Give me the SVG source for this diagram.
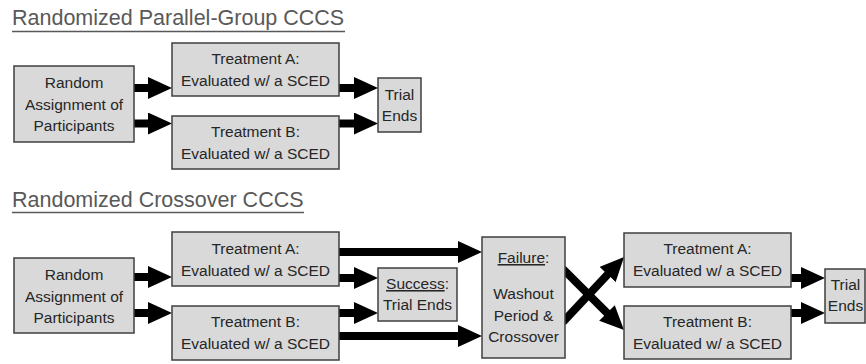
<svg xmlns="http://www.w3.org/2000/svg" width="866" height="364" viewBox="0 0 866 364">
<style>
.box{fill:#d9d9d9;stroke:#3f3f3f;stroke-width:1.5}
.t{font-family:"Liberation Sans",Arial,sans-serif;font-size:15.5px;fill:#262626;text-anchor:middle}
.title{font-family:"Liberation Sans",Arial,sans-serif;font-size:21.5px;fill:#595959}
.ul{stroke:#595959;stroke-width:1.3}
.c{stroke:#000;stroke-width:8;fill:none;marker-end:url(#ah)}
</style>
<defs>
<marker id="ah" viewBox="0 0 24 22" refX="1" refY="11" markerWidth="24" markerHeight="22" markerUnits="userSpaceOnUse" orient="auto">
<path d="M0,0 L24,11 L0,22 z" fill="#000"/>
</marker>
</defs>
<rect width="866" height="364" fill="#fff"/>
<g id="title-parallel">
<text class="title" x="12" y="25">Randomized Parallel-Group CCCS</text>
<line class="ul" x1="12" y1="31.5" x2="345" y2="31.5"/>
</g>
<g id="title-crossover">
<text class="title" x="12" y="207">Randomized Crossover CCCS</text>
<line class="ul" x1="12" y1="212.5" x2="304" y2="212.5"/>
</g>
<g id="connectors">
<line class="c" x1="134" y1="88" x2="149" y2="88"/>
<line class="c" x1="134" y1="123.5" x2="149" y2="123.5"/>
<line class="c" x1="339" y1="88" x2="355" y2="88"/>
<line class="c" x1="339" y1="123.5" x2="355" y2="123.5"/>
<line class="c" x1="134" y1="277" x2="149" y2="277"/>
<line class="c" x1="134" y1="313" x2="149" y2="313"/>
<line class="c" x1="339" y1="252" x2="459" y2="252"/>
<line class="c" x1="339" y1="278" x2="355" y2="278"/>
<line class="c" x1="339" y1="313" x2="355" y2="313"/>
<line class="c" x1="339" y1="336" x2="459" y2="336"/>
<line class="c" x1="563" y1="269" x2="607.7" y2="313.7"/>
<line class="c" x1="563" y1="322" x2="608.3" y2="273.8"/>
<line class="c" x1="791" y1="278" x2="802" y2="278"/>
<line class="c" x1="791" y1="313" x2="802" y2="313"/>
</g>
<g id="random1">
<rect class="box" x="14" y="66" width="120" height="76"/>
<text class="t" x="74" y="88">Random</text>
<text class="t" x="74" y="110">Assignment of</text>
<text class="t" x="74" y="131">Participants</text>
</g>
<g id="treatA1">
<rect class="box" x="172" y="43" width="167" height="53"/>
<text class="t" x="255.5" y="64">Treatment A:</text>
<text class="t" x="255.5" y="86">Evaluated w/ a SCED</text>
</g>
<g id="treatB1">
<rect class="box" x="172" y="116" width="167" height="53"/>
<text class="t" x="255.5" y="137">Treatment B:</text>
<text class="t" x="255.5" y="159">Evaluated w/ a SCED</text>
</g>
<g id="trial1">
<rect class="box" x="378" y="78" width="43" height="54"/>
<text class="t" x="399.5" y="100">Trial</text>
<text class="t" x="399.5" y="121">Ends</text>
</g>
<g id="random2">
<rect class="box" x="14" y="258" width="120" height="75"/>
<text class="t" x="74" y="280">Random</text>
<text class="t" x="74" y="301.5">Assignment of</text>
<text class="t" x="74" y="323">Participants</text>
</g>
<g id="treatA2">
<rect class="box" x="172" y="232" width="167" height="54"/>
<text class="t" x="255.5" y="254">Treatment A:</text>
<text class="t" x="255.5" y="275.5">Evaluated w/ a SCED</text>
</g>
<g id="treatB2">
<rect class="box" x="172" y="306" width="167" height="54"/>
<text class="t" x="255.5" y="327">Treatment B:</text>
<text class="t" x="255.5" y="349">Evaluated w/ a SCED</text>
</g>
<g id="success">
<rect class="box" x="378" y="268" width="79" height="53"/>
<text class="t" x="417.5" y="289"><tspan text-decoration="underline">Success</tspan>:</text>
<text class="t" x="417.5" y="310">Trial Ends</text>
</g>
<g id="failure">
<rect class="box" x="482" y="237" width="83" height="121"/>
<text class="t" x="523.5" y="263"><tspan text-decoration="underline">Failure</tspan>:</text>
<text class="t" x="523.5" y="299">Washout</text>
<text class="t" x="523.5" y="320.5">Period &amp;</text>
<text class="t" x="523.5" y="342">Crossover</text>
</g>
<g id="treatA3">
<rect class="box" x="624" y="233" width="167" height="54"/>
<text class="t" x="707.5" y="254">Treatment A:</text>
<text class="t" x="707.5" y="276">Evaluated w/ a SCED</text>
</g>
<g id="treatB3">
<rect class="box" x="624" y="306" width="167" height="53"/>
<text class="t" x="707.5" y="327">Treatment B:</text>
<text class="t" x="707.5" y="348.5">Evaluated w/ a SCED</text>
</g>
<g id="trial3">
<rect class="box" x="825" y="269" width="40" height="54"/>
<text class="t" x="845.5" y="290">Trial</text>
<text class="t" x="845.5" y="311">Ends</text>
</g>
</svg>
